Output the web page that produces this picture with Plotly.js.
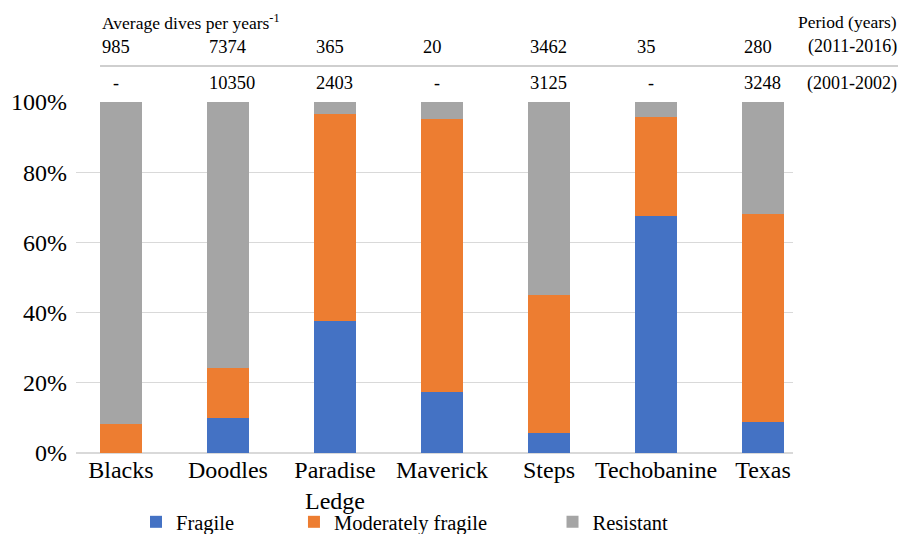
<!DOCTYPE html>
<html>
<head>
<meta charset="utf-8">
<script src="https://cdn.plot.ly/plotly-3.0.1.min.js"></script>
<style>html,body{margin:0;padding:0;background:#fff;}#chart{width:898px;height:534px;}</style>
</head>
<body>
<div id="chart"></div>
<script>
var categories = ['Blacks', 'Doodles', 'Paradise<br>Ledge', 'Maverick', 'Steps', 'Techobanine', 'Texas'];
var fragile = [0, 10.0, 37.7, 17.3, 5.6, 67.6, 8.8];
var moderatelyFragile = [8.3, 14.2, 58.9, 78.0, 39.4, 28.0, 59.2];
var resistant = [91.7, 75.8, 3.4, 4.7, 55.0, 4.4, 32.0];
var dives2011 = ['985', '7374', '365', '20', '3462', '35', '280'];
var dives2001 = ['-', '10350', '2403', '-', '3125', '-', '3248'];
var seriesNames = ['Fragile', 'Moderately fragile', 'Resistant'];
var seriesColors = ['#4472C4', '#ED7D31', '#A5A5A5'];
var tickVals = [0, 20, 40, 60, 80, 100];
var tickText = ['0%', '20%', '40%', '60%', '80%', '100%'];

var FONT = 'Liberation Serif';
var idx = categories.map(function (c, i) { return i; });
var seriesData = [fragile, moderatelyFragile, resistant];
var legendIds = ['legend', 'legend2', 'legend3'];

var traces = seriesData.map(function (vals, k) {
  return {
    type: 'bar',
    x: idx,
    y: vals,
    name: seriesNames[k],
    marker: { color: seriesColors[k] },
    legend: legendIds[k],
    hoverinfo: 'skip'
  };
});

var annotations = [];
annotations.push({
  xref: 'paper', yref: 'paper', x: 0.034, y: 1.228, xanchor: 'left', yanchor: 'middle',
  text: 'Average dives per years<sup>-1</sup>', showarrow: false,
  font: { family: FONT, size: 17.5, color: '#000' }
});
annotations.push({
  xref: 'paper', yref: 'paper', x: 1.148, y: 1.228, xanchor: 'right', yanchor: 'middle',
  text: 'Period (years)', showarrow: false,
  font: { family: FONT, size: 17.5, color: '#000' }
});
annotations.push({
  xref: 'paper', yref: 'paper', x: 1.148, y: 1.1567, xanchor: 'right', yanchor: 'middle',
  text: '(2011-2016)', showarrow: false,
  font: { family: FONT, size: 18, color: '#000' }
});
annotations.push({
  xref: 'paper', yref: 'paper', x: 1.148, y: 1.054, xanchor: 'right', yanchor: 'middle',
  text: '(2001-2002)', showarrow: false,
  font: { family: FONT, size: 18, color: '#000' }
});
function addRow(vals, yPos) {
  vals.forEach(function (v, i) {
    if (v === '-') {
      annotations.push({ xref: 'x', yref: 'paper', x: i, y: yPos, xanchor: 'center', yanchor: 'middle', xshift: -5,
        text: v, showarrow: false, font: { family: FONT, size: 18, color: '#000' } });
    } else {
      annotations.push({ xref: 'x', yref: 'paper', x: i - 0.2, y: yPos, xanchor: 'left', yanchor: 'middle',
        text: v, showarrow: false, font: { family: FONT, size: 18.5, color: '#000' } });
    }
  });
}
addRow(dives2011, 1.1567);
addRow(dives2001, 1.054);

var legendBase = {
  orientation: 'h', yref: 'container', yanchor: 'middle', y: 0.0225, xanchor: 'left',
  font: { family: FONT, size: 20.5, color: '#000' }, bgcolor: 'rgba(0,0,0,0)', borderwidth: 0
};
function legendAt(x) { var o = JSON.parse(JSON.stringify(legendBase)); o.x = x; return o; }

var layout = {
  width: 898, height: 534,
  margin: { l: 76, r: 105, t: 102, b: 81, pad: 0, autoexpand: false },
  paper_bgcolor: '#ffffff', plot_bgcolor: '#ffffff',
  barmode: 'stack', bargap: 0.6,
  font: { family: FONT, color: '#000' },
  xaxis: {
    range: [-0.42, 6.28], tickmode: 'array', tickvals: idx, ticktext: categories,
    showgrid: false, zeroline: false, showline: false, ticks: '', automargin: false,
    tickfont: { family: FONT, size: 24, color: '#000' }, fixedrange: true
  },
  yaxis: {
    range: [0, 100], tickmode: 'array', tickvals: tickVals, ticktext: tickText,
    showgrid: true, gridcolor: '#d9d9d9', gridwidth: 1.3, zeroline: true, zerolinecolor: '#d9d9d9', zerolinewidth: 1.5,
    showline: false, ticks: '', ticklabelstandoff: 8, automargin: false,
    tickfont: { family: FONT, size: 24, color: '#000' }, fixedrange: true
  },
  showlegend: true,
  legend: legendAt(0.0837),
  legend2: legendAt(0.304),
  legend3: legendAt(0.6646),
  annotations: annotations,
  shapes: [{
    type: 'line', xref: 'paper', yref: 'paper', x0: 0.0335, x1: 1.1465, y0: 1.1025, y1: 1.1025,
    line: { color: '#bfbfbf', width: 1.5 }
  }]
};

Plotly.newPlot('chart', traces, layout, { displayModeBar: false, staticPlot: true });
</script>
</body>
</html>
